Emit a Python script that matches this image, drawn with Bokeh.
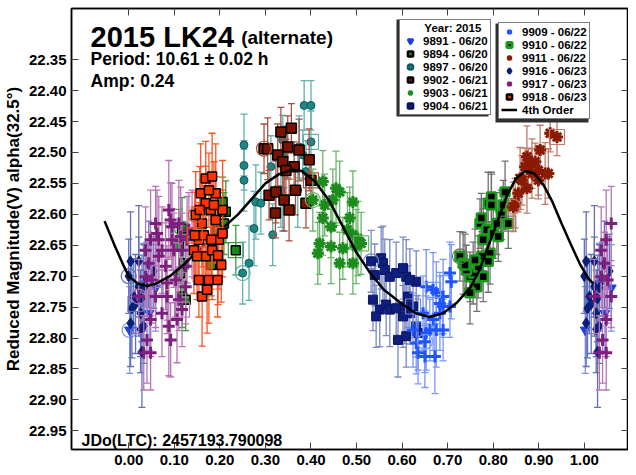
from bokeh.plotting import figure
from bokeh.models import (Range1d, LinearAxis, FixedTicker, NumeralTickFormatter,
                          Label, Legend, LegendItem, BoxAnnotation)
from bokeh.embed import file_html
from bokeh.resources import INLINE

FONT = "Liberation Sans"
NAN = float("nan")

# ---------------- data ----------------
x_ticks = [0.0, 0.1, 0.2, 0.3, 0.4, 0.5, 0.6, 0.7, 0.8, 0.9, 1.0]
y_ticks = [22.35, 22.40, 22.45, 22.50, 22.55, 22.60, 22.65, 22.70, 22.75, 22.80, 22.85, 22.90, 22.95]

curve_phase = [-0.053, -0.03, -0.01, 0.00, 0.02, 0.04, 0.06, 0.09, 0.12, 0.15, 0.18, 0.21, 0.24, 0.27,
               0.30, 0.33, 0.36, 0.38, 0.41, 0.44, 0.47, 0.50, 0.53, 0.56, 0.60, 0.63, 0.66, 0.69,
               0.72, 0.75, 0.77, 0.79, 0.81, 0.83, 0.85, 0.87, 0.89, 0.91, 0.93, 0.95, 0.97, 0.99,
               1.01, 1.02]
curve_mag = [22.611, 22.652, 22.685, 22.700, 22.712, 22.716, 22.712, 22.700, 22.682, 22.660, 22.640,
             22.620, 22.600, 22.575, 22.550, 22.535, 22.528, 22.530, 22.548, 22.578, 22.620, 22.662,
             22.695, 22.722, 22.745, 22.760, 22.766, 22.760, 22.743, 22.718, 22.690, 22.650, 22.610,
             22.570, 22.542, 22.530, 22.534, 22.552, 22.580, 22.615, 22.648, 22.680, 22.705, 22.712]

s9891_phase = [0.002, 0.033, 0.045, 0.059]
s9891_mag = [22.787, 22.712, 22.760, 22.719]
s9891_err = [0.07, 0.065, 0.06, 0.07]

s9894_phase = [0.117, 0.110, 0.121, 0.114, 0.117, 0.125, 0.206, 0.213, 0.209, 0.194, 0.181, 0.235]
s9894_mag = [22.623, 22.652, 22.679, 22.695, 22.733, 22.738, 22.580, 22.596, 22.615, 22.626, 22.682, 22.658]
s9894_err = [0.05, 0.06, 0.05, 0.06, 0.05, 0.05, 0.04, 0.05, 0.05, 0.06, 0.05, 0.04]

s9897_phase = [0.250, 0.264, 0.253, 0.253, 0.253, 0.279, 0.290, 0.275, 0.316, 0.312, 0.338, 0.341,
               0.334, 0.338, 0.374, 0.382, 0.371, 0.389, 0.385, 0.400, 0.400]
s9897_mag = [22.695, 22.679, 22.545, 22.521, 22.488, 22.580, 22.582, 22.623, 22.633, 22.523, 22.480,
             22.507, 22.561, 22.577, 22.491, 22.504, 22.561, 22.531, 22.424, 22.424, 22.483]
s9897_err = [0.05, 0.06, 0.05, 0.04, 0.05, 0.06, 0.05, 0.06, 0.05, 0.05, 0.04, 0.05, 0.06, 0.05,
             0.05, 0.04, 0.06, 0.05, 0.04, 0.04, 0.05]

s9902_phase = [0.297, 0.305, 0.327, 0.308, 0.323, 0.334, 0.349, 0.338, 0.363, 0.345, 0.396, 0.389,
               0.341, 0.357, 0.374, 0.366, 0.352, 0.322, 0.400]
s9902_mag = [22.494, 22.494, 22.504, 22.569, 22.564, 22.467, 22.491, 22.515, 22.523, 22.529, 22.512,
             22.582, 22.577, 22.461, 22.496, 22.561, 22.593, 22.598, 22.545]
s9902_err = [0.04, 0.05, 0.05, 0.04, 0.05, 0.04, 0.05, 0.05, 0.04, 0.05, 0.05, 0.04, 0.05, 0.04,
             0.05, 0.04, 0.05, 0.04, 0.04]

s9903_phase = [0.404, 0.426, 0.455, 0.463, 0.492, 0.426, 0.444, 0.419, 0.444, 0.463, 0.485, 0.492,
               0.503, 0.470, 0.499, 0.415, 0.448, 0.492, 0.430, 0.480, 0.510]
s9903_mag = [22.577, 22.547, 22.558, 22.564, 22.580, 22.606, 22.620, 22.647, 22.652, 22.679, 22.606,
             22.633, 22.639, 22.655, 22.652, 22.663, 22.577, 22.679, 22.585, 22.625, 22.647]
s9903_err = [0.05, 0.05, 0.06, 0.05, 0.05, 0.06, 0.05, 0.05, 0.06, 0.05, 0.05, 0.05, 0.06, 0.05,
             0.06, 0.05, 0.05, 0.05, 0.05, 0.06, 0.05]

s9904_phase = [0.532, 0.554, 0.558, 0.540, 0.562, 0.573, 0.587, 0.602, 0.609, 0.631, 0.617, 0.536,
               0.551, 0.565, 0.573, 0.587, 0.543, 0.606, 0.613, 0.617, 0.591, 0.609, 0.631, 0.635,
               0.602, 0.624]
s9904_mag = [22.676, 22.671, 22.679, 22.698, 22.690, 22.701, 22.695, 22.687, 22.701, 22.709, 22.706,
             22.738, 22.754, 22.746, 22.754, 22.752, 22.765, 22.749, 22.733, 22.760, 22.803, 22.797,
             22.781, 22.792, 22.765, 22.749]
s9904_err = [0.05, 0.05, 0.06, 0.05, 0.05, 0.06, 0.05, 0.05, 0.06, 0.05, 0.05, 0.05, 0.06, 0.05,
             0.06, 0.05, 0.05, 0.06, 0.05, 0.05, 0.06, 0.05, 0.05, 0.06, 0.05, 0.05]

s9909_phase = [0.650, 0.653, 0.675, 0.690, 0.705, 0.708, 0.690, 0.683, 0.668, 0.653, 0.661, 0.675,
               0.690, 0.650, 0.672, 0.631, 0.624, 0.705, 0.646, 0.683, 0.635, 0.668]
s9909_mag = [22.806, 22.717, 22.727, 22.733, 22.695, 22.709, 22.749, 22.760, 22.770, 22.792, 22.787,
             22.787, 22.787, 22.830, 22.830, 22.808, 22.787, 22.749, 22.760, 22.744, 22.824, 22.722]
s9909_err = [0.05, 0.06, 0.05, 0.06, 0.05, 0.06, 0.05, 0.06, 0.05, 0.06, 0.05, 0.06, 0.05, 0.05,
             0.06, 0.05, 0.06, 0.05, 0.06, 0.05, 0.05, 0.06]

s9910_phase = [0.727, 0.734, 0.749, 0.756, 0.764, 0.767, 0.775, 0.778, 0.771, 0.789, 0.786, 0.760,
               0.741, 0.738, 0.778, 0.749, 0.774, 0.793, 0.800, 0.808, 0.796, 0.796, 0.822, 0.826,
               0.818, 0.789, 0.811, 0.833]
s9910_mag = [22.668, 22.679, 22.701, 22.695, 22.717, 22.685, 22.668, 22.641, 22.615, 22.582, 22.625,
             22.674, 22.690, 22.682, 22.701, 22.727, 22.606, 22.663, 22.631, 22.615, 22.572, 22.585,
             22.585, 22.564, 22.601, 22.676, 22.636, 22.615]
s9910_err = [0.04, 0.05, 0.04, 0.05, 0.04, 0.05, 0.04, 0.05, 0.04, 0.05, 0.04, 0.05, 0.04, 0.05,
             0.04, 0.05, 0.04, 0.05, 0.04, 0.05, 0.04, 0.05, 0.04, 0.05, 0.04, 0.05, 0.04, 0.04]

s9911_phase = [0.844, 0.855, 0.863, 0.874, 0.877, 0.885, 0.892, 0.899, 0.914, 0.921, 0.925, 0.903,
               0.859, 0.874, 0.899, 0.885, 0.848, 0.870, 0.940]
s9911_mag = [22.588, 22.566, 22.545, 22.507, 22.523, 22.518, 22.515, 22.529, 22.534, 22.534, 22.469,
             22.496, 22.542, 22.558, 22.545, 22.534, 22.582, 22.523, 22.475]
s9911_err = [0.04, 0.03, 0.04, 0.05, 0.03, 0.04, 0.03, 0.04, 0.05, 0.04, 0.03, 0.04, 0.05, 0.04,
             0.03, 0.04, 0.04, 0.03, 0.03]

s9916_phase = [0.000, 0.004, 0.022, 0.044, 0.055, 0.022, 0.033, 0.011, 0.029, 0.007, 0.026, 0.033,
               0.004, 0.029, 0.026, 0.040, 0.015]
s9916_mag = [22.700, 22.676, 22.676, 22.681, 22.692, 22.717, 22.719, 22.733, 22.736, 22.752, 22.760,
             22.781, 22.776, 22.822, 22.786, 22.705, 22.745]
s9916_err = [0.06, 0.08, 0.09, 0.07, 0.06, 0.08, 0.07, 0.06, 0.07, 0.08, 0.07, 0.06, 0.07, 0.09,
             0.07, 0.06, 0.08]

s9917_phase = [0.022, 0.037, 0.048, 0.059, 0.062, 0.066, 0.073, 0.088, 0.092, 0.095, 0.095, 0.099,
               0.081, 0.084, 0.088, 0.092, 0.073, 0.059, 0.048, 0.040, 0.048, 0.110, 0.114, 0.117,
               0.125, 0.128, 0.132, 0.110, 0.106, 0.125, 0.037, 0.051, 0.084, 0.103, 0.066, 0.044,
               0.033, 0.139, 0.147, 0.117]
s9917_mag = [22.733, 22.658, 22.641, 22.615, 22.631, 22.668, 22.658, 22.593, 22.609, 22.620, 22.641,
             22.658, 22.684, 22.733, 22.781, 22.803, 22.760, 22.733, 22.770, 22.803, 22.824, 22.615,
             22.636, 22.658, 22.684, 22.641, 22.625, 22.738, 22.770, 22.717, 22.701, 22.706, 22.711,
             22.706, 22.641, 22.679, 22.824, 22.631, 22.658, 22.754]
s9917_err = [0.06, 0.07, 0.08, 0.06, 0.07, 0.05, 0.07, 0.08, 0.06, 0.07, 0.05, 0.06, 0.07, 0.06,
             0.08, 0.06, 0.07, 0.05, 0.06, 0.07, 0.06, 0.07, 0.08, 0.06, 0.05, 0.07, 0.06, 0.05,
             0.07, 0.06, 0.05, 0.07, 0.06, 0.06, 0.07, 0.05, 0.06, 0.07, 0.05, 0.06]

s9918_phase = [0.147, 0.158, 0.169, 0.183, 0.191, 0.161, 0.180, 0.191, 0.198, 0.154, 0.169, 0.183,
               0.176, 0.195, 0.161, 0.143, 0.154, 0.206, 0.206, 0.169, 0.150, 0.165, 0.176, 0.187,
               0.196, 0.172, 0.203, 0.156, 0.181, 0.145]
s9918_mag = [22.601, 22.566, 22.542, 22.539, 22.566, 22.615, 22.593, 22.609, 22.641, 22.641, 22.668,
             22.658, 22.706, 22.706, 22.733, 22.658, 22.706, 22.631, 22.593, 22.582, 22.668, 22.634,
             22.561, 22.585, 22.666, 22.722, 22.682, 22.593, 22.641, 22.634]
s9918_err = [0.07, 0.08, 0.06, 0.07, 0.08, 0.07, 0.06, 0.07, 0.08, 0.06, 0.07, 0.08, 0.07, 0.06,
             0.08, 0.07, 0.06, 0.07, 0.08, 0.06, 0.07, 0.08, 0.06, 0.07, 0.08, 0.07, 0.06, 0.07,
             0.08, 0.07]

series_labels = ["9891 - 06/20", "9894 - 06/20", "9897 - 06/20", "9902 - 06/21", "9903 - 06/21",
                 "9904 - 06/21", "9909 - 06/22", "9910 - 06/22", "9911 - 06/22", "9916 - 06/23",
                 "9917 - 06/23", "9918 - 06/23"]
legend_title = "Year: 2015"
fit_label = "4th Order"
WRAP = 0.06  # phases below this are repeated one cycle later

# ---------------- styles ----------------
styles = [
    dict(marker="inverted_triangle", size=10, fill="#1e3ee0", line="#1e3ee0", lw=1, bar="#8094ee"),
    dict(marker="square", size=9, fill="#168a16", line="black", lw=1.5, bar="#3d9a3d"),
    dict(marker="circle", size=8, fill="#1f8585", line="#0f5c5c", lw=1, bar="#62b0b0"),
    dict(marker="square", size=10, fill="#7a1400", line="black", lw=1.5, bar="#a8503f"),
    dict(marker="asterisk", size=12, fill="#1c8c1c", line="#1c8c1c", lw=3, bar="#6ab46a"),
    dict(marker="square", size=9, fill="#0f1f7f", line="#0a1560", lw=1, bar="#7a88c4"),
    dict(marker="cross", size=12, fill="#1f55ff", line="#1f55ff", lw=3, bar="#7896ff"),
    dict(marker="square", size=9, fill="black", line="#1a9a1a", lw=2.5, bar="#707070"),
    dict(marker="asterisk", size=12, fill="#8a1a00", line="#8a1a00", lw=3, bar="#c07a6a"),
    dict(marker="diamond", size=11, fill="#0a1f7a", line="#0a1f7a", lw=1, bar="#6070b8"),
    dict(marker="cross", size=12, fill="#7d207d", line="#7d207d", lw=3, bar="#b674b6"),
    dict(marker="square", size=9, fill="#ff3300", line="black", lw=1.5, bar="#ff5020"),
]
data = [
    (s9891_phase, s9891_mag, s9891_err), (s9894_phase, s9894_mag, s9894_err),
    (s9897_phase, s9897_mag, s9897_err), (s9902_phase, s9902_mag, s9902_err),
    (s9903_phase, s9903_mag, s9903_err), (s9904_phase, s9904_mag, s9904_err),
    (s9909_phase, s9909_mag, s9909_err), (s9910_phase, s9910_mag, s9910_err),
    (s9911_phase, s9911_mag, s9911_err), (s9916_phase, s9916_mag, s9916_err),
    (s9917_phase, s9917_mag, s9917_err), (s9918_phase, s9918_mag, s9918_err),
]

# ---------------- figure ----------------
p = figure(width=628, height=467, output_backend="svg", toolbar_location=None,
           x_range=Range1d(-0.1256, 1.0969), y_range=Range1d(22.9802, 22.2673),
           min_border_left=65, min_border_right=0, min_border_top=8, min_border_bottom=0)
p.background_fill_color = "white"
p.border_fill_color = "white"
p.outline_line_color = "black"
p.outline_line_width = 1.5
p.xgrid.visible = False
p.ygrid.visible = False

p.add_layout(LinearAxis(), "above")
p.add_layout(LinearAxis(), "right")

for ax in p.xaxis:
    ax.ticker = FixedTicker(ticks=x_ticks)
    ax.formatter = NumeralTickFormatter(format="0.00")
for ax in p.yaxis:
    ax.ticker = FixedTicker(ticks=y_ticks)
    ax.formatter = NumeralTickFormatter(format="0.00")
for ax in p.xaxis + p.yaxis:
    ax.axis_line_color = "black"
    ax.axis_line_width = 1.5
    ax.major_tick_in = 7
    ax.major_tick_out = 0
    ax.major_tick_line_color = "#444444"
    ax.major_tick_line_width = 1
    ax.minor_tick_line_color = None
    ax.major_label_text_font = FONT
    ax.major_label_text_font_style = "bold"
    ax.major_label_text_font_size = "15px"
    ax.major_label_text_color = "black"
p.xaxis[0].major_label_standoff = 0
p.yaxis[0].major_label_standoff = 5
# top and right axes: ticks only
p.above[0].major_label_overrides = {t: "" for t in x_ticks}
p.right[0].major_label_overrides = {t: "" for t in y_ticks}
for ax in (p.above[0], p.right[0]):
    ax.major_label_text_font_size = "1px"
    ax.major_label_standoff = 0

p.yaxis[0].axis_label = "Reduced Magnitude(V) alpha(32.5°)"
p.yaxis[0].axis_label_text_font = FONT
p.yaxis[0].axis_label_text_font_style = "bold"
p.yaxis[0].axis_label_text_font_size = "17px"
p.yaxis[0].axis_label_text_color = "black"
p.yaxis[0].axis_label_standoff = 3

fit = None
proxies = []
for k, ((ph, mg, er), st) in enumerate(zip(data, styles)):
    if k == len(data) - 1:
        # fit curve sits above all sessions except the last one
        fit = p.line(curve_phase, curve_mag, line_color="black", line_width=2.5)
    xs, ys, es = list(ph), list(mg), list(er)
    for a, b, c in zip(ph, mg, er):
        if a < WRAP:
            xs.append(a + 1.0); ys.append(b); es.append(c)
    lo = [y - e for y, e in zip(ys, es)]
    hi = [y + e for y, e in zip(ys, es)]
    p.segment(x0=xs, y0=lo, x1=xs, y1=hi, line_color=st["bar"], line_width=1.3)
    p.scatter(xs, lo, marker="dash", size=7, line_color=st["bar"], line_width=1.3)
    p.scatter(xs, hi, marker="dash", size=7, line_color=st["bar"], line_width=1.3)
    p.scatter(xs, ys, marker=st["marker"], size=st["size"], fill_color=st["fill"],
              line_color=st["line"], line_width=st["lw"])
    # open rings on the first and last point of each session
    p.scatter([ph[0]], [mg[0]], marker="circle", size=15, fill_color=None,
              line_color=st["bar"], line_width=1.2)
    p.scatter([ph[-1]], [mg[-1]], marker="square", size=15, fill_color=None,
              line_color=st["bar"], line_width=1.2)
    # legend swatch (bolder outline so the small legend icon reads like the original)
    proxies.append(p.scatter([NAN], [NAN], marker=st["marker"], fill_color=st["fill"],
                             line_color=st["line"], line_width=max(st["lw"], 2.0) + 0.5))

fit_proxy = p.line([NAN, NAN], [NAN, NAN], line_color="black", line_width=2.5)

# ---------------- legends ----------------
items1 = [LegendItem(label=series_labels[i], renderers=[proxies[i]]) for i in range(6)]
items2 = [LegendItem(label=series_labels[i], renderers=[proxies[i]]) for i in range(6, 12)]
items2.append(LegendItem(label=fit_label, renderers=[fit_proxy]))

# drop shadows (canvas pixels)
p.add_layout(BoxAnnotation(left=396, right=488, top=19, bottom=116,
                           left_units="canvas", right_units="canvas",
                           top_units="canvas", bottom_units="canvas",
                           fill_color="#303030", fill_alpha=1, line_color=None))
p.add_layout(BoxAnnotation(left=495, right=588, top=23, bottom=122,
                           left_units="canvas", right_units="canvas",
                           top_units="canvas", bottom_units="canvas",
                           fill_color="#303030", fill_alpha=1, line_color=None))

leg1 = Legend(items=items1, title="\u00a0" * 7 + legend_title, location=(328, 334))
leg2 = Legend(items=items2, location=(427, 330))
for lg in (leg1, leg2):
    lg.label_text_font = FONT
    lg.label_text_font_style = "bold"
    lg.label_text_font_size = "11.5px"
    lg.label_text_color = "black"
    lg.title_text_font = FONT
    lg.title_text_font_style = "bold"
    lg.title_text_font_size = "11.5px"
    lg.title_text_color = "black"
    lg.title_standoff = 0
    lg.glyph_width = 16
    lg.glyph_height = 13
    lg.label_height = 13
    lg.label_standoff = 5
    lg.spacing = 0
    lg.padding = 2
    lg.margin = 0
    lg.border_line_color = "black"
    lg.border_line_width = 1.5
    lg.background_fill_color = "white"
    lg.background_fill_alpha = 1
    p.add_layout(lg, "center")

# ---------------- texts ----------------
def add_text(txt, x, y, size):
    p.add_layout(Label(x=x, y=y, text=txt, text_font=FONT, text_font_style="bold",
                       text_font_size=size, text_color="black", text_baseline="alphabetic"))

add_text("2015 LK24", -0.0837, 22.314, "29px")
add_text("(alternate)", 0.2467, 22.314, "19px")
add_text("Period: 10.61 ± 0.02 h", -0.0837, 22.3487, "17.5px")
add_text("Amp: 0.24", -0.0837, 22.385, "17.5px")
add_text("JDo(LTC): 2457193.790098", -0.1035, 22.9655, "16px")

open("out.html", "w").write(file_html(p, INLINE))
